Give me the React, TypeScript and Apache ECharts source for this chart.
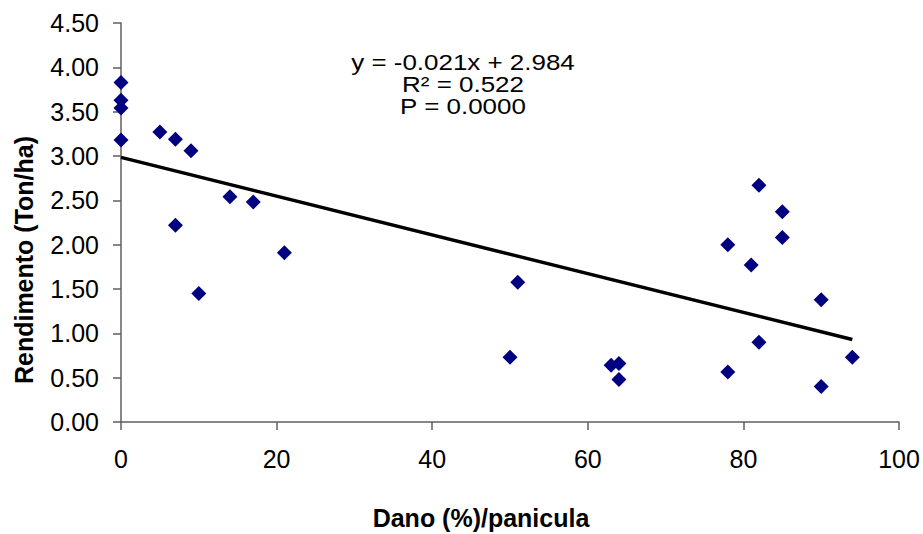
import React, { useEffect, useRef } from "react";
import * as echarts from "echarts";

const damage = [0, 0, 0, 0, 5, 7, 9, 14, 17, 7, 21, 10, 51, 50, 63, 64, 64, 78, 82, 90, 90, 94, 81, 82, 85, 85, 78];
const yieldTon = [3.83, 3.63, 3.54, 3.18, 3.27, 3.19, 3.06, 2.54, 2.48, 2.22, 1.91, 1.45, 1.575, 0.73, 0.64, 0.66, 0.48, 0.565, 0.9, 1.38, 0.4, 0.73, 1.77, 2.67, 2.37, 2.08, 2.0];
const trendX = [0, 94];
const trendY = [2.984, 0.93];
const equationLines = ["y = -0.021x + 2.984", "R² = 0.522", "P = 0.0000"];
const xTitle = "Dano (%)/panicula";
const yTitle = "Rendimento (Ton/ha)";

const FONT = "'Liberation Sans', Arial, sans-serif";

export default function App() {
  const ref = useRef<HTMLDivElement>(null);
  useEffect(() => {
    if (!ref.current) return;
    const chart = echarts.init(ref.current, undefined, { renderer: "svg" });
    const axisColor = "#5f5f5f";
    chart.setOption({
      animation: false,
      backgroundColor: "#ffffff",
      grid: { left: 121, right: 24, top: 23, bottom: 112, containLabel: false },
      xAxis: {
        type: "value",
        min: 0,
        max: 100,
        interval: 20,
        axisLine: { show: true, lineStyle: { color: axisColor, width: 1.5 } },
        axisTick: { show: true, inside: false, length: 8, lineStyle: { color: axisColor, width: 1.5 } },
        splitLine: { show: false },
        axisLabel: { color: "#000", fontFamily: FONT, fontSize: 25, margin: 24 },
      },
      yAxis: {
        type: "value",
        min: 0,
        max: 4.5,
        interval: 0.5,
        axisLine: { show: true, lineStyle: { color: axisColor, width: 1.5 } },
        axisTick: { show: true, inside: false, length: 8, lineStyle: { color: axisColor, width: 1.5 } },
        splitLine: { show: false },
        axisLabel: {
          color: "#000",
          fontFamily: FONT,
          fontSize: 25,
          margin: 22,
          formatter: (v: number) => v.toFixed(2),
        },
      },
      series: [
        {
          type: "line",
          data: trendX.map((x, i) => [x, trendY[i]]),
          showSymbol: false,
          symbol: "none",
          lineStyle: { color: "#000", width: 3.5 },
          z: 1,
        },
        {
          type: "scatter",
          data: damage.map((x, i) => [x, yieldTon[i]]),
          symbol: "diamond",
          symbolSize: [15, 15],
          itemStyle: { color: "#000080", opacity: 1 },
          z: 2,
        },
      ],
      graphic: [
        {
          type: "text",
          x: 463,
          y: 84,
          scaleX: 1.18,
          scaleY: 1,
          style: {
            text: equationLines.join("\n"),
            fill: "#000",
            font: `22px ${FONT}`,
            lineHeight: 22,
            textAlign: "center",
            textVerticalAlign: "middle",
          },
        },
        {
          type: "text",
          x: 481,
          y: 518,
          style: {
            text: xTitle,
            fill: "#000",
            font: `bold 25px ${FONT}`,
            textAlign: "center",
            textVerticalAlign: "middle",
          },
        },
        {
          type: "text",
          x: 24,
          y: 260,
          rotation: Math.PI / 2,
          style: {
            text: yTitle,
            fill: "#000",
            font: `bold 25px ${FONT}`,
            textAlign: "center",
            textVerticalAlign: "middle",
          },
        },
      ],
    });
    return () => chart.dispose();
  }, []);
  return (
    <div
      ref={ref}
      style={{ position: "fixed", left: 0, top: 0, width: 923, height: 534, background: "#fff" }}
    />
  );
}
